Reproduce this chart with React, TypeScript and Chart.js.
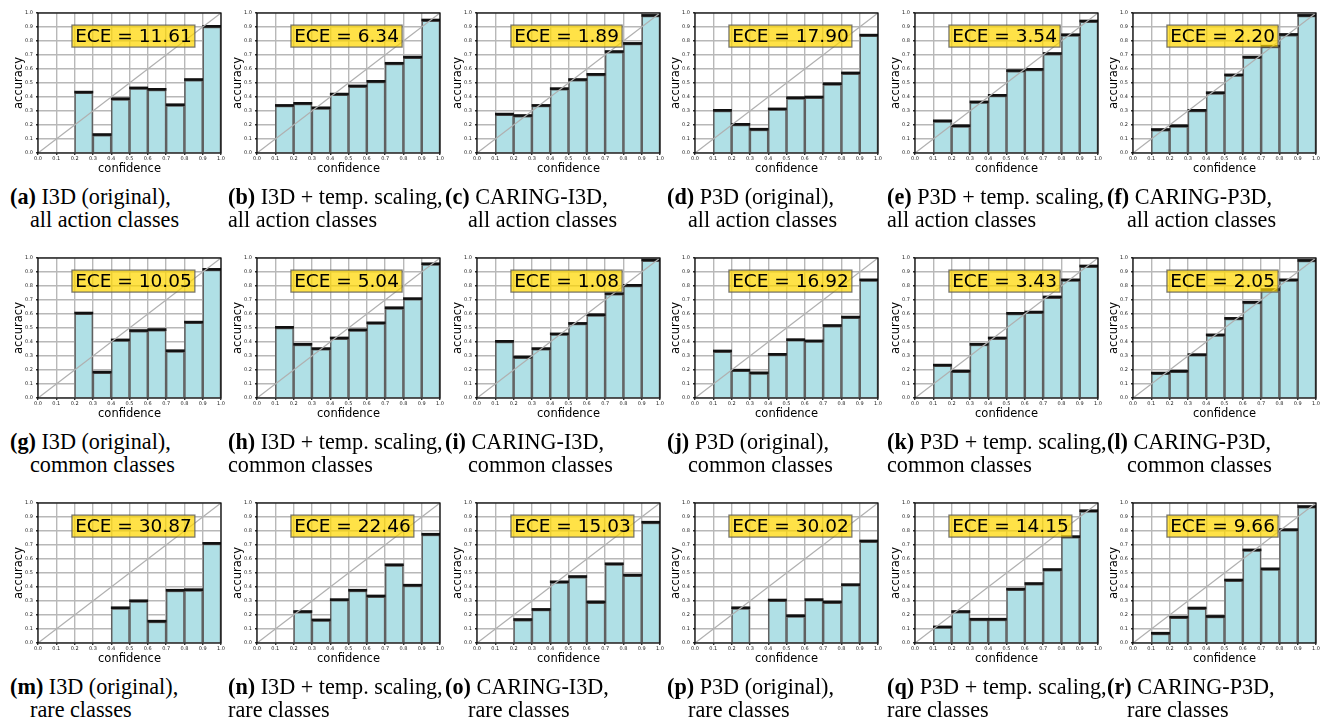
import React, { useEffect, useRef } from 'react';
import { Chart, registerables } from 'chart.js';
Chart.register(...registerables);

// ---- data ----
const binCenters = [0.05, 0.15, 0.25, 0.35, 0.45, 0.55, 0.65, 0.75, 0.85, 0.95];

const accI3DAll = [null, null, 0.43, 0.127, 0.383, 0.46, 0.45, 0.34, 0.52, 0.90];
const accI3DTempAll = [null, 0.335, 0.35, 0.318, 0.416, 0.474, 0.507, 0.636, 0.68, 0.945];
const accCaringI3DAll = [null, 0.273, 0.263, 0.335, 0.455, 0.52, 0.557, 0.72, 0.778, 0.978];
const accP3DAll = [null, 0.30, 0.20, 0.165, 0.31, 0.39, 0.395, 0.49, 0.567, 0.837];
const accP3DTempAll = [null, 0.225, 0.19, 0.36, 0.407, 0.584, 0.593, 0.706, 0.84, 0.938];
const accCaringP3DAll = [null, 0.163, 0.19, 0.30, 0.426, 0.553, 0.68, 0.758, 0.842, 0.978];

const accI3DCommon = [null, null, 0.602, 0.18, 0.41, 0.477, 0.484, 0.333, 0.537, 0.914];
const accI3DTempCommon = [null, 0.50, 0.379, 0.348, 0.424, 0.482, 0.532, 0.64, 0.705, 0.954];
const accCaringI3DCommon = [null, 0.40, 0.288, 0.348, 0.453, 0.528, 0.59, 0.741, 0.80, 0.981];
const accP3DCommon = [null, 0.331, 0.194, 0.175, 0.307, 0.412, 0.403, 0.513, 0.573, 0.839];
const accP3DTempCommon = [null, 0.23, 0.187, 0.379, 0.424, 0.60, 0.609, 0.717, 0.839, 0.938];
const accCaringP3DCommon = [null, 0.173, 0.187, 0.305, 0.446, 0.564, 0.679, 0.77, 0.839, 0.978];

const accI3DRare = [null, null, null, null, 0.247, 0.297, 0.151, 0.372, 0.376, 0.707];
const accI3DTempRare = [null, null, 0.22, 0.16, 0.305, 0.372, 0.331, 0.554, 0.408, 0.772];
const accCaringI3DRare = [null, null, 0.163, 0.235, 0.432, 0.47, 0.288, 0.561, 0.48, 0.858];
const accP3DRare = [null, null, 0.247, null, 0.302, 0.19, 0.305, 0.288, 0.412, 0.724];
const accP3DTempRare = [null, 0.11, 0.22, 0.165, 0.165, 0.38, 0.42, 0.52, 0.755, 0.94];
const accCaringP3DRare = [null, 0.065, 0.18, 0.245, 0.185, 0.445, 0.66, 0.525, 0.805, 0.97];

const eceAll = ['11.61', '6.34', '1.89', '17.90', '3.54', '2.20'];
const eceCommon = ['10.05', '5.04', '1.08', '16.92', '3.43', '2.05'];
const eceRare = ['30.87', '22.46', '15.03', '30.02', '14.15', '9.66'];

const methodNames = ['I3D (original),', 'I3D + temp. scaling,', 'CARING-I3D,', 'P3D (original),', 'P3D + temp. scaling,', 'CARING-P3D,'];
const subsetNames = ['all action classes', 'common classes', 'rare classes'];
const panelLetters = [
  ['a', 'b', 'c', 'd', 'e', 'f'],
  ['g', 'h', 'i', 'j', 'k', 'l'],
  ['m', 'n', 'o', 'p', 'q', 'r'],
];

const accRows = [
  [accI3DAll, accI3DTempAll, accCaringI3DAll, accP3DAll, accP3DTempAll, accCaringP3DAll],
  [accI3DCommon, accI3DTempCommon, accCaringI3DCommon, accP3DCommon, accP3DTempCommon, accCaringP3DCommon],
  [accI3DRare, accI3DTempRare, accCaringI3DRare, accP3DRare, accP3DTempRare, accCaringP3DRare],
];
const eceRows = [eceAll, eceCommon, eceRare];

// ---- layout ----
const COL_LEFT = [0, 219, 439, 657, 877, 1095];
const ROW_TOP = [0, 245, 490];
const CAP_TOP = [185, 430, 675];
const CAP1_X = [10, 228, 445, 667, 887, 1107];
const CAP2_X = [30, 228, 468, 688, 887, 1127];
const CW = 226;
const CH = 178;
const Y_AXIS_W = 38;
const X_AXIS_H = 25;
const PLOT_TOP = 13;
const PLOT_W = 187;

const FONT = '"DejaVu Sans", sans-serif';

function Panel({ acc, ece, left, top }: { acc: (number | null)[]; ece: string; left: number; top: number }) {
  const ref = useRef<HTMLCanvasElement>(null);
  useEffect(() => {
    const canvas = ref.current!;
    const barData: any[] = [];
    const capData: any[] = [];
    acc.forEach((v, i) => {
      if (v === null) return;
      barData.push({ x: binCenters[i], y: v });
      capData.push({ x: binCenters[i], y: [v - 0.002, v + 0.012] });
    });
    const overlay = {
      id: 'overlay',
      afterDraw(chart: any) {
        const { ctx, chartArea: a } = chart;
        const xs = chart.scales.x;
        const ys = chart.scales.y;
        ctx.save();
        const text = 'ECE = ' + ece;
        ctx.font = '18.5px ' + FONT;
        const w = ctx.measureText(text).width;
        const x0 = xs.getPixelForValue(0.203);
        const yc = ys.getPixelForValue(0.835);
        const pad = 3.2;
        const h = 22;
        ctx.fillStyle = 'rgba(255,215,0,0.72)';
        ctx.fillRect(x0 - pad, yc - h / 2, w + 2 * pad, h);
        ctx.strokeStyle = 'rgba(90,90,90,0.8)';
        ctx.lineWidth = 1.3;
        ctx.strokeRect(x0 - pad, yc - h / 2, w + 2 * pad, h);
        ctx.fillStyle = '#000';
        ctx.textBaseline = 'middle';
        ctx.textAlign = 'left';
        ctx.fillText(text, x0, yc + 1);
        ctx.strokeStyle = '#000';
        ctx.lineWidth = 1.2;
        ctx.strokeRect(a.left, a.top, a.right - a.left, a.bottom - a.top);
        ctx.restore();
      },
    };
    const tickCb = (v: any) => Number(v).toFixed(1);
    const chart = new Chart(canvas, {
      type: 'bar',
      data: {
        datasets: [
          {
            type: 'line',
            data: [{ x: 0, y: 0 }, { x: 1, y: 1 }],
            borderColor: '#b0b0b0',
            borderWidth: 1.3,
            pointRadius: 0,
            order: 0,
          } as any,
          {
            type: 'bar',
            data: capData,
            backgroundColor: '#111',
            borderWidth: 0,
            grouped: false,
            barPercentage: 1,
            categoryPercentage: 1,
            order: 1,
          } as any,
          {
            type: 'bar',
            data: barData,
            backgroundColor: '#b0e0e6',
            borderColor: '#606060',
            borderWidth: 1.6,
            grouped: false,
            barPercentage: 1,
            categoryPercentage: 1,
            order: 2,
          } as any,
        ],
      },
      options: {
        animation: false,
        responsive: false,
        devicePixelRatio: 1,
        layout: { autoPadding: false, padding: { left: 0, top: PLOT_TOP, right: CW - Y_AXIS_W - PLOT_W, bottom: 0 } },
        plugins: { legend: { display: false }, tooltip: { enabled: false } },
        scales: {
          x: {
            type: 'linear',
            min: 0,
            max: 1,
            offset: false,
            z: 1,
            grid: { color: '#b8b8b8', lineWidth: 1.4, offset: false, tickLength: 2, tickColor: '#333' },
            border: { display: false },
            ticks: { stepSize: 0.1, autoSkip: false, maxRotation: 0, padding: 1, font: { size: 5, family: FONT }, color: '#222', callback: tickCb },
            title: { display: true, text: 'confidence', color: '#000', font: { size: 11.5, family: FONT }, padding: { top: 0, bottom: 2.5 } },
            afterFit: (s: any) => { s.height = X_AXIS_H; },
          },
          y: {
            type: 'linear',
            min: 0,
            max: 1,
            z: 1,
            grid: { color: '#b8b8b8', lineWidth: 1.4, tickLength: 2, tickColor: '#333' },
            border: { display: false },
            ticks: { stepSize: 0.1, autoSkip: false, padding: 3, font: { size: 5, family: FONT }, color: '#222', callback: tickCb },
            title: { display: true, text: 'accuracy', color: '#000', font: { size: 11.5, family: FONT }, padding: { top: 12, bottom: 0 } },
            afterFit: (s: any) => { s.width = Y_AXIS_W; },
          },
        },
      } as any,
      plugins: [overlay as any],
    });
    return () => chart.destroy();
  }, [acc, ece]);
  return (
    <canvas
      ref={ref}
      width={CW}
      height={CH}
      style={{ position: 'absolute', left, top, width: CW, height: CH }}
    />
  );
}

export default function App() {
  const captionStyle: React.CSSProperties = {
    position: 'absolute',
    fontFamily: '"Liberation Serif", "Times New Roman", serif',
    fontSize: '22.2px',
    lineHeight: '23px',
    whiteSpace: 'nowrap',
    color: '#000',
  };
  return (
    <div style={{ position: 'absolute', left: 0, top: 0, width: 1330, height: 721, background: '#fff', overflow: 'hidden' }}>
      {accRows.map((row, ri) =>
        row.map((acc, ci) => (
          <Panel key={`p${ri}-${ci}`} acc={acc} ece={eceRows[ri][ci]} left={COL_LEFT[ci]} top={ROW_TOP[ri]} />
        ))
      )}
      {panelLetters.map((letters, ri) =>
        letters.map((l, ci) => (
          <React.Fragment key={`c${ri}-${ci}`}>
            <div style={{ ...captionStyle, left: CAP1_X[ci], top: CAP_TOP[ri] }}>
              <b>({l})</b> {methodNames[ci]}
            </div>
            <div style={{ ...captionStyle, left: CAP2_X[ci], top: CAP_TOP[ri] + 23 }}>{subsetNames[ri]}</div>
          </React.Fragment>
        ))
      )}
    </div>
  );
}
